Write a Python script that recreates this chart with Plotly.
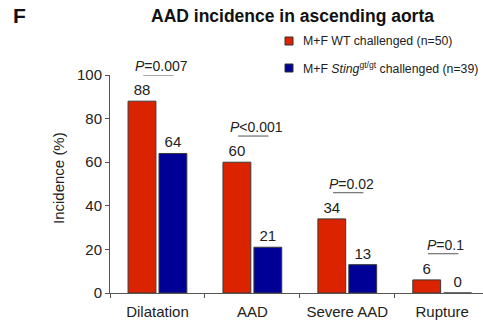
import plotly.graph_objects as go

categories = ["Dilatation", "AAD", "Severe AAD", "Rupture"]
wt_values = [88, 60, 34, 6]
sting_values = [64, 21, 13, 0]
p_labels = ["<i>P</i>=0.007", "<i>P</i><0.001", "<i>P</i>=0.02", "<i>P</i>=0.1"]
series_names = ["M+F WT challenged (n=50)",
                "M+F <i>Sting</i><sup>gt/gt</sup> challenged (n=39)"]
series_colors = ["#DC2300", "#000096"]
y_ticks = [0, 20, 40, 60, 80, 100]

FONT = "Liberation Sans, Arial, sans-serif"

fig = go.Figure()
for vals, name, col in zip([wt_values, sting_values], series_names, series_colors):
    fig.add_trace(go.Bar(
        x=categories, y=vals, name=name,
        marker=dict(color=col, line=dict(color="#3a3a3a", width=1)),
        text=[str(v) for v in vals], textposition="outside",
        textfont=dict(family=FONT, size=15, color="#222"),
        cliponaxis=False, showlegend=False,
    ))

shapes = []
annotations = []
for i, (a, b, p) in enumerate(zip(wt_values, sting_values, p_labels)):
    yl = max(a, b) + 12
    shapes.append(dict(type="line", xref="x", yref="y",
                       x0=i - 0.15, x1=i + 0.17, y0=yl, y1=yl,
                       line=dict(color="#555", width=1)))
    annotations.append(dict(x=i + 0.04, y=yl, xref="x", yref="y",
                            text=p, showarrow=False, yanchor="middle", yshift=9,
                            font=dict(family=FONT, size=14, color="#222")))

# legend (manual)
leg_y = [41, 68]
for name, col, yy in zip(series_names, series_colors, leg_y):
    shapes.append(dict(type="rect", xref="paper", yref="paper",
                       x0=(285 - 110) / 373, x1=(293 - 110) / 373,
                       y0=(293 - (yy + 4)) / 218, y1=(293 - (yy - 4)) / 218,
                       fillcolor=col, line=dict(color="#333", width=1)))
    annotations.append(dict(x=(301 - 110) / 373, y=(293 - yy) / 218,
                            xref="paper", yref="paper", text=name,
                            showarrow=False, xanchor="left", yanchor="middle",
                            font=dict(family=FONT, size=12.3, color="#222")))

annotations.append(dict(x=(292 - 110) / 373, y=(293 - 16) / 218, xref="paper", yref="paper",
                        text="<b>AAD incidence in ascending aorta</b>", showarrow=False,
                        xanchor="center", yanchor="middle",
                        font=dict(family=FONT, size=17.5, color="#111")))
annotations.append(dict(x=(11 - 110) / 373, y=(293 - 16) / 218, xref="paper", yref="paper",
                        text="<b>F</b>", showarrow=False,
                        xanchor="left", yanchor="middle",
                        font=dict(family=FONT, size=21, color="#111")))
annotations.append(dict(x=(58 - 110) / 373, y=(293 - 178) / 218, xref="paper", yref="paper",
                        text="Incidence (%)", showarrow=False, textangle=-90,
                        xanchor="center", yanchor="middle",
                        font=dict(family=FONT, size=15, color="#222")))

fig.update_layout(
    width=483, height=324,
    margin=dict(l=110, r=0, t=75, b=31),
    paper_bgcolor="white", plot_bgcolor="white",
    barmode="group", bargap=0.348, bargroupgap=0.1,
    font=dict(family=FONT, size=15, color="#222"),
    shapes=shapes, annotations=annotations,
    showlegend=False,
)
fig.update_xaxes(type="category", range=[-0.5, 3.43], tickson="boundaries",
                 ticks="outside", ticklen=4, tickcolor="#555",
                 showline=True, linecolor="#555", linewidth=1,
                 showgrid=False, zeroline=False, ticklabelstandoff=5,
                 tickfont=dict(family=FONT, size=15, color="#222"))
fig.update_yaxes(range=[0, 100], tickvals=y_ticks, ticks="outside", ticklen=4,
                 tickcolor="#555", showline=True, linecolor="#555", linewidth=1,
                 showgrid=False, zeroline=False,
                 tickfont=dict(family=FONT, size=15, color="#222"))

fig.write_html("out.html")
